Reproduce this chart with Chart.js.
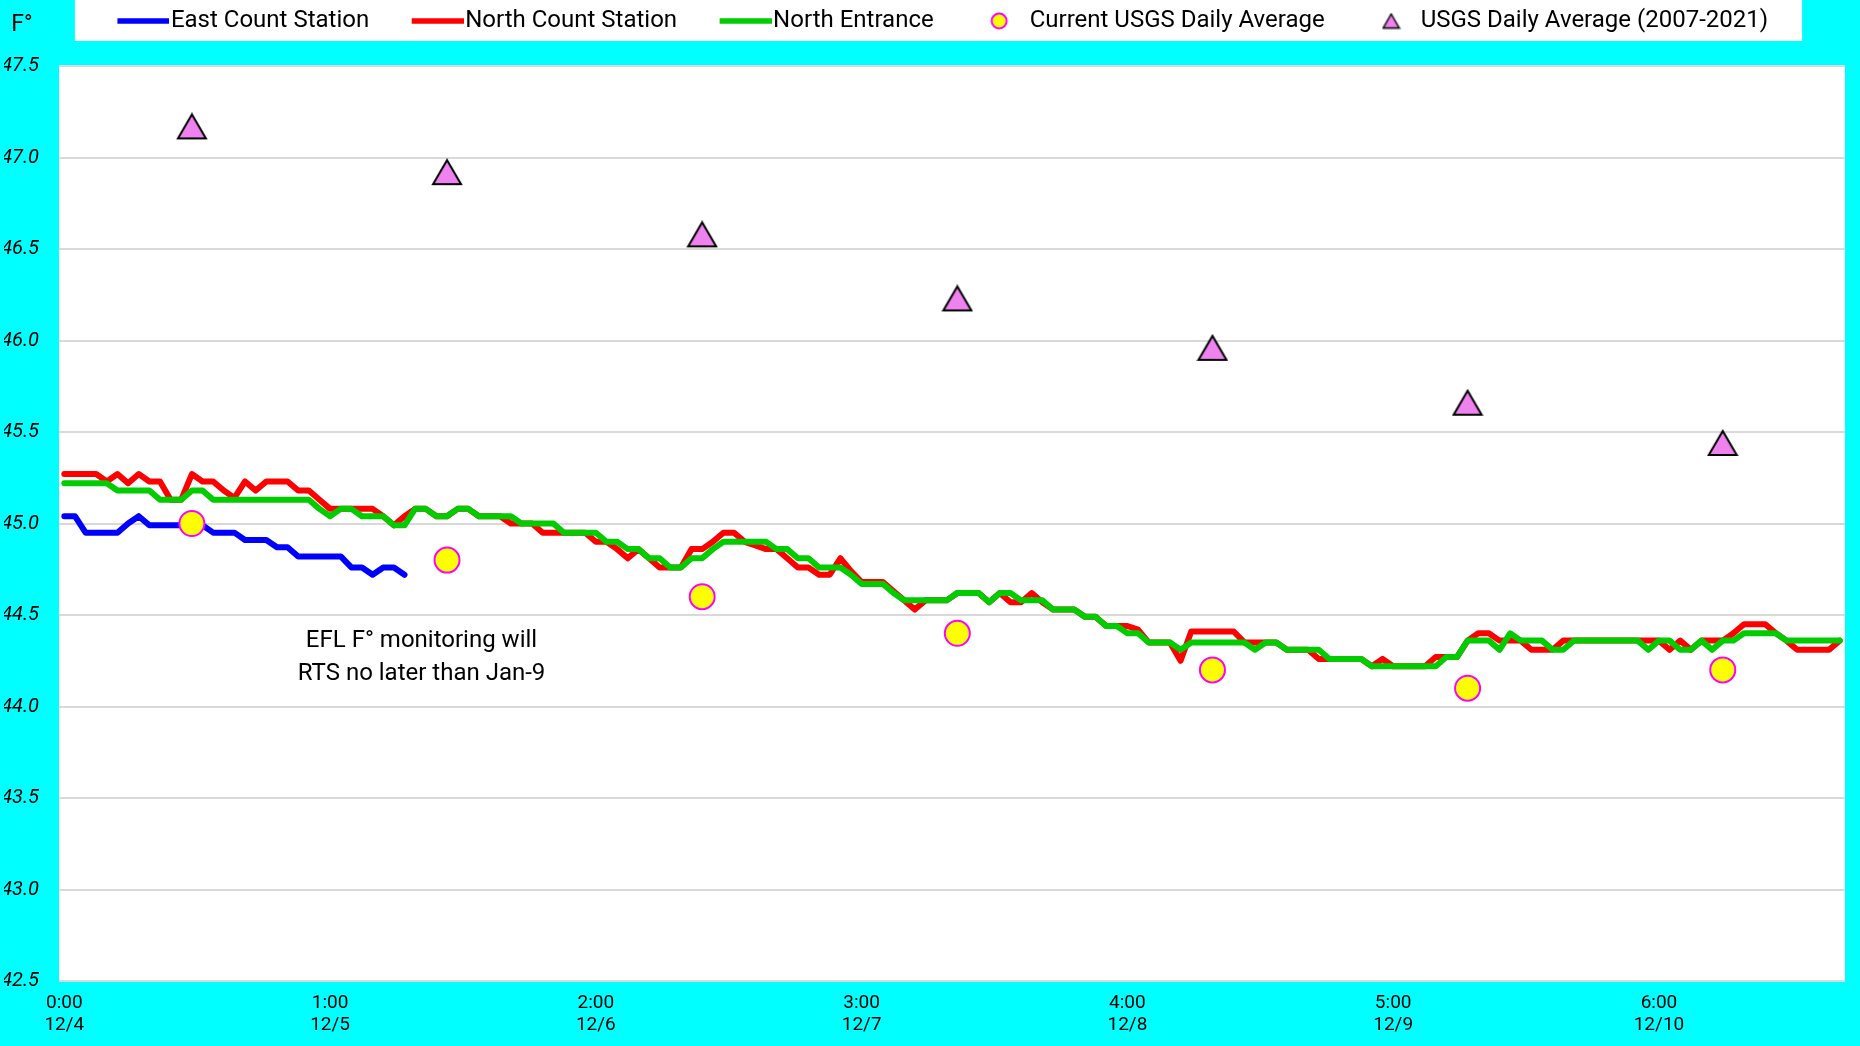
<!DOCTYPE html>
<html>
<head>
<meta charset="utf-8">
<title>River temperature</title>
<script src="https://cdn.jsdelivr.net/npm/chart.js@4.4.1/dist/chart.umd.min.js"></script>
<style>
  html, body { margin: 0; padding: 0; background: #00ffff; }
  canvas { display: block; }
</style>
</head>
<body>
<canvas id="tempChart" width="1860" height="1046"></canvas>
<script>
// hourly readings, 12/4 0:00 onwards
const days = ['12/4', '12/5', '12/6', '12/7', '12/8', '12/9', '12/10'];
const labelEvery = 25; // excel shows every 25th category

const eastCount = [
    45.04, 45.04, 44.95, 44.95, 44.95, 44.95, 45.00, 45.04, 44.99, 44.99,
    44.99, 44.99, 44.99, 44.99, 44.95, 44.95, 44.95, 44.91, 44.91, 44.91,
    44.87, 44.87, 44.82, 44.82, 44.82, 44.82, 44.82, 44.76, 44.76, 44.72,
    44.76, 44.76, 44.72
];

const northCount = [
    45.27, 45.27, 45.27, 45.27, 45.23, 45.27, 45.22, 45.27, 45.23, 45.23,
    45.13, 45.13, 45.27, 45.23, 45.23, 45.18, 45.14, 45.23, 45.18, 45.23,
    45.23, 45.23, 45.18, 45.18, 45.13, 45.08, 45.08, 45.08, 45.08, 45.08,
    45.04, 44.99, 45.04, 45.08, 45.08, 45.04, 45.04, 45.08, 45.08, 45.04,
    45.04, 45.04, 45.00, 45.00, 45.00, 44.95, 44.95, 44.95, 44.95, 44.95,
    44.90, 44.90, 44.86, 44.81, 44.86, 44.81, 44.76, 44.76, 44.76, 44.86,
    44.86, 44.90, 44.95, 44.95, 44.90, 44.88, 44.86, 44.86, 44.81, 44.76,
    44.76, 44.72, 44.72, 44.81, 44.74, 44.68, 44.68, 44.68, 44.63, 44.58,
    44.53, 44.58, 44.58, 44.58, 44.62, 44.62, 44.62, 44.57, 44.62, 44.57,
    44.57, 44.62, 44.57, 44.53, 44.53, 44.53, 44.49, 44.49, 44.44, 44.44,
    44.44, 44.42, 44.35, 44.35, 44.35, 44.25, 44.41, 44.41, 44.41, 44.41,
    44.41, 44.35, 44.35, 44.35, 44.35, 44.31, 44.31, 44.31, 44.26, 44.26,
    44.26, 44.26, 44.26, 44.22, 44.26, 44.22, 44.22, 44.22, 44.22, 44.27,
    44.27, 44.27, 44.36, 44.40, 44.40, 44.36, 44.36, 44.36, 44.31, 44.31,
    44.31, 44.36, 44.36, 44.36, 44.36, 44.36, 44.36, 44.36, 44.36, 44.36,
    44.36, 44.31, 44.36, 44.31, 44.36, 44.36, 44.36, 44.40, 44.45, 44.45,
    44.45, 44.40, 44.36, 44.31, 44.31, 44.31, 44.31, 44.36
];

const northEntrance = [
    45.22, 45.22, 45.22, 45.22, 45.22, 45.18, 45.18, 45.18, 45.18, 45.13,
    45.13, 45.13, 45.18, 45.18, 45.13, 45.13, 45.13, 45.13, 45.13, 45.13,
    45.13, 45.13, 45.13, 45.13, 45.08, 45.04, 45.08, 45.08, 45.04, 45.04,
    45.04, 44.99, 44.99, 45.08, 45.08, 45.04, 45.04, 45.08, 45.08, 45.04,
    45.04, 45.04, 45.04, 45.00, 45.00, 45.00, 45.00, 44.95, 44.95, 44.95,
    44.95, 44.90, 44.90, 44.86, 44.86, 44.81, 44.81, 44.76, 44.76, 44.81,
    44.81, 44.86, 44.90, 44.90, 44.90, 44.90, 44.90, 44.86, 44.86, 44.81,
    44.81, 44.76, 44.76, 44.76, 44.72, 44.67, 44.67, 44.67, 44.62, 44.58,
    44.58, 44.58, 44.58, 44.58, 44.62, 44.62, 44.62, 44.57, 44.62, 44.62,
    44.58, 44.58, 44.58, 44.53, 44.53, 44.53, 44.49, 44.49, 44.44, 44.44,
    44.40, 44.40, 44.35, 44.35, 44.35, 44.31, 44.35, 44.35, 44.35, 44.35,
    44.35, 44.35, 44.31, 44.35, 44.35, 44.31, 44.31, 44.31, 44.31, 44.26,
    44.26, 44.26, 44.26, 44.22, 44.22, 44.22, 44.22, 44.22, 44.22, 44.22,
    44.27, 44.27, 44.36, 44.36, 44.36, 44.31, 44.40, 44.36, 44.36, 44.36,
    44.31, 44.31, 44.36, 44.36, 44.36, 44.36, 44.36, 44.36, 44.36, 44.31,
    44.36, 44.36, 44.31, 44.31, 44.36, 44.31, 44.36, 44.36, 44.40, 44.40,
    44.40, 44.40, 44.36, 44.36, 44.36, 44.36, 44.36, 44.36
];

// daily USGS values, plotted at noon
const usgsHours = [12, 36, 60, 84, 108, 132, 156];
const usgsCurrent = [45.0, 44.8, 44.6, 44.4, 44.2, 44.1, 44.2];
const usgsHistoric = [47.17, 46.92, 46.58, 46.23, 45.96, 45.66, 45.44];

const yMin = 42.5, yMax = 47.5, yStep = 0.5;
const note = ['EFL F° monitoring will', 'RTS no later than Jan-9'];
const noteAt = { hour: 33.6, values: [44.36, 44.18] };

// one category per hour
const hourLabels = [];
for (let i = 0; i < northCount.length; i++) {
    hourLabels.push(days[Math.floor(i / 24)] + ' ' + (i % 24) + ':00');
}

const BLUE = '#0000ff', RED = '#ff0000', GREEN = '#00cc00';
const DOT_FILL = '#ffff00', DOT_EDGE = '#ff00ff', TRI_FILL = '#ee82ee';

function triangleImage(w, h, lw) {
    const c = document.createElement('canvas');
    c.width = w; c.height = h;
    const g = c.getContext('2d');
    g.beginPath();
    g.moveTo(w / 2, lw);
    g.lineTo(w - lw, h - lw);
    g.lineTo(lw, h - lw);
    g.closePath();
    g.fillStyle = TRI_FILL;
    g.fill();
    g.lineWidth = lw;
    g.strokeStyle = '#000';
    g.stroke();
    return c;
}

// legend icons: wide canvases so the sample sits right next to the text
function legendLine(color) {
    const c = document.createElement('canvas');
    c.width = 96; c.height = 12;
    const g = c.getContext('2d');
    g.strokeStyle = color;
    g.lineWidth = 5.5;
    g.beginPath();
    g.moveTo(44, 6);
    g.lineTo(96, 6);
    g.stroke();
    return c;
}
function legendDot() {
    const c = document.createElement('canvas');
    c.width = 96; c.height = 22;
    const g = c.getContext('2d');
    g.beginPath();
    g.arc(67, 11, 7.5, 0, Math.PI * 2);
    g.fillStyle = DOT_FILL;
    g.fill();
    g.lineWidth = 2;
    g.strokeStyle = DOT_EDGE;
    g.stroke();
    return c;
}
function legendTriangle() {
    const c = document.createElement('canvas');
    c.width = 96; c.height = 22;
    const g = c.getContext('2d');
    g.drawImage(triangleImage(19, 17, 1.5), 68 - 9.5, 2.5);
    return c;
}
const legendIcons = [legendLine(BLUE), legendLine(RED), legendLine(GREEN), legendDot(), legendTriangle()];

const background = {
    id: 'background',
    beforeDraw(chart) {
        const { ctx, chartArea } = chart;
        ctx.save();
        ctx.fillStyle = '#00ffff';
        ctx.fillRect(0, 0, chart.width, chart.height);
        ctx.fillStyle = '#ffffff';
        ctx.fillRect(chartArea.left, chartArea.top, chartArea.right - chartArea.left, chartArea.bottom - chartArea.top);
        const boxes = chart.legend.legendHitBoxes;
        if (boxes && boxes.length) {
            const first = boxes[0], last = boxes[boxes.length - 1];
            const x0 = first.left - 9, x1 = last.left + last.width + 34;
            ctx.fillRect(x0, chart.legend.top, x1 - x0, 41);
        }
        ctx.restore();
    }
};

// make the legend band tall enough to push the plot down to where excel has it
const legendBand = {
    id: 'legendBand',
    beforeLayout(chart) {
        const lg = chart.legend;
        if (lg && !lg._banded) {
            const fit = lg.fit;
            lg.fit = function () { fit.call(this); this.height = 66; };
            lg._banded = true;
        }
    }
};

const texts = {
    id: 'texts',
    afterDraw(chart) {
        const { ctx, chartArea, scales } = chart;
        ctx.save();
        ctx.fillStyle = '#000';
        ctx.textAlign = 'center';
        ctx.textBaseline = 'middle';
        ctx.font = '24px Roboto';
        const nx = scales.x.getPixelForValue(noteAt.hour);
        note.forEach((line, i) => ctx.fillText(line, nx, scales.y.getPixelForValue(noteAt.values[i])));
        ctx.font = '23px Roboto';
        ctx.fillText('F°', chartArea.left - 37, 25);
        ctx.restore();
    }
};

const lineStyle = { pointRadius: 0, borderWidth: 6, borderJoinStyle: 'round', borderCapStyle: 'round', tension: 0, fill: false };

new Chart(document.getElementById('tempChart').getContext('2d'), {
    type: 'line',
    data: {
        labels: hourLabels,
        datasets: [
            { label: 'East Count Station', data: eastCount, borderColor: BLUE, backgroundColor: BLUE, order: 2, ...lineStyle },
            { label: 'North Count Station', data: northCount, borderColor: RED, backgroundColor: RED, order: 4, ...lineStyle },
            { label: 'North Entrance', data: northEntrance, borderColor: GREEN, backgroundColor: GREEN, order: 3, ...lineStyle },
            {
                label: 'Current USGS Daily Average',
                data: usgsHours.map((h, i) => ({ x: hourLabels[h], y: usgsCurrent[i] })),
                showLine: false,
                pointRadius: 12.5,
                pointBorderWidth: 2,
                pointBackgroundColor: DOT_FILL,
                pointBorderColor: DOT_EDGE,
                backgroundColor: DOT_FILL,
                borderColor: DOT_EDGE,
                order: 1
            },
            {
                label: 'USGS Daily Average (2007-2021)',
                data: usgsHours.map((h, i) => ({ x: hourLabels[h], y: usgsHistoric[i] })),
                showLine: false,
                pointStyle: triangleImage(32, 28, 2),
                pointRadius: 14,
                backgroundColor: TRI_FILL,
                borderColor: '#000',
                order: 0
            }
        ]
    },
    options: {
        responsive: false,
        animation: false,
        events: [],
        layout: { padding: { left: 4, right: 12, top: 0, bottom: 0 } },
        plugins: {
            tooltip: { enabled: false },
            legend: {
                display: true,
                position: 'top',
                labels: {
                    usePointStyle: true,
                    pointStyleWidth: 75,
                    padding: 9,
                    color: '#000',
                    font: { family: 'Roboto', size: 24 },
                    sort: (a, b) => a.datasetIndex - b.datasetIndex,
                    generateLabels(chart) {
                        const items = Chart.defaults.plugins.legend.labels.generateLabels(chart);
                        items.forEach(item => { item.pointStyle = legendIcons[item.datasetIndex]; });
                        return items;
                    }
                }
            }
        },
        scales: {
            x: {
                type: 'category',
                offset: true,
                grid: { display: false, drawTicks: false },
                border: { display: false },
                afterFit: (s) => { s.height = 65; },
                ticks: {
                    autoSkip: false,
                    maxRotation: 0,
                    minRotation: 0,
                    padding: 11,
                    color: '#000',
                    font: { family: 'Roboto', size: 19, lineHeight: 1.15 },
                    callback: (value) => value % labelEvery === 0
                        ? [(value % 24) + ':00', days[Math.floor(value / 24)]]
                        : ''
                }
            },
            y: {
                min: yMin,
                max: yMax,
                grid: { color: '#d9d9d9', lineWidth: 2, drawTicks: false },
                border: { display: false },
                afterFit: (s) => { s.width = 55; },
                ticks: {
                    stepSize: yStep,
                    padding: 20,
                    color: '#000',
                    font: { family: 'Roboto', size: 20, style: 'italic' },
                    callback: (v) => Number(v).toFixed(1)
                }
            }
        }
    },
    plugins: [legendBand, background, texts]
});
</script>
</body>
</html>
